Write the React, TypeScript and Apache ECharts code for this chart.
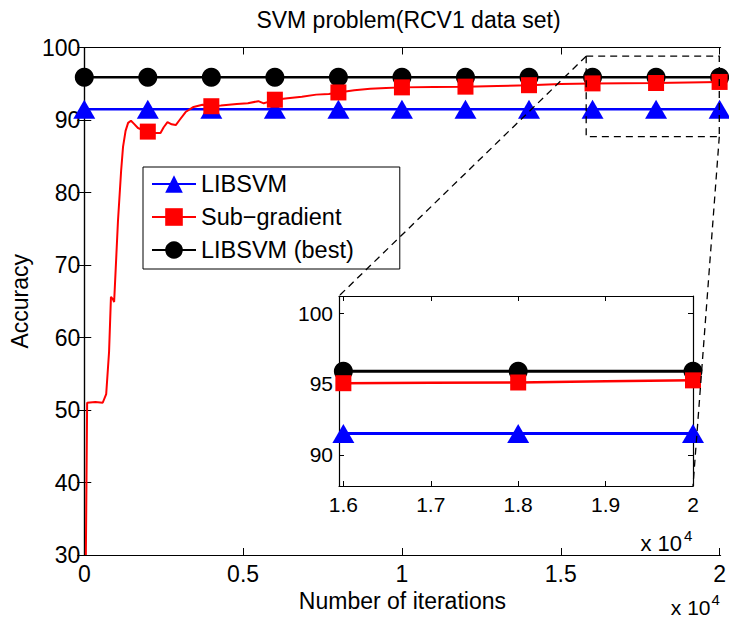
import React, { useEffect, useRef } from "react";
import * as echarts from "echarts";

// ---- data ----
const markerIters = [0, 2000, 4000, 6000, 8000, 10000, 12000, 14000, 16000, 18000, 20000];
const libsvmAcc = [91.5, 91.5, 91.5, 91.5, 91.5, 91.5, 91.5, 91.5, 91.5, 91.5, 91.5];
const libsvmBestAcc = [95.9, 95.9, 95.9, 95.9, 95.9, 95.9, 95.9, 95.9, 95.9, 95.9, 95.9];

const subIters = [
  50, 90, 350, 580, 690, 780, 840, 900, 940, 1060, 1160, 1220, 1300, 1380, 1470, 1560, 1690, 1850,
  2000, 2200, 2400, 2500, 2620, 2750, 2880, 3000, 3190, 3440, 3720, 4000, 4300, 4550, 4800, 5150,
  5480, 5650, 5800, 6000, 6400, 6850, 7300, 7700, 8000, 8500, 9000, 9500, 10000, 11000, 12000,
  13000, 14000, 15000, 16000, 17000, 18000, 19000, 20000,
];
const subAcc = [
  30, 51, 51.1, 51, 52.2, 58, 65.6, 65.3, 64.9, 76, 83, 86.3, 88.5, 89.6, 89.9, 89.5, 88.9, 88.6,
  88.4, 88.2, 88.2, 89, 89.7, 89.4, 89.3, 90, 91.1, 91.8, 92.1, 91.9, 92, 92.1, 92.2, 92.3,
  92.6, 92.3, 92.5, 92.8, 93, 93.2, 93.5, 93.6, 93.8, 94.1, 94.3, 94.4, 94.5, 94.55, 94.6,
  94.7, 94.8, 94.95, 95.05, 95.08, 95.1, 95.18, 95.25,
];
const subMarkerIters = [2000, 4000, 6000, 8000, 10000, 12000, 14000, 16000, 18000, 20000];

const mainXTicks = [0, 5000, 10000, 15000, 20000];
const insetXTicks = [16000, 17000, 18000, 19000, 20000];
const insetYTicks = [90, 95, 100];

const mainXRange = [0, 20030];
const mainYRange = [30, 100];
const insetXRange = [15950, 20000];
const insetYRange = [87.8, 101.2];
const zoomBoxX = [15800, 19990];
const zoomBoxY = [87.7, 98.8];

const FONT = "'Liberation Sans', Arial, Helvetica, sans-serif";

export default function App() {
  const ref = useRef<HTMLDivElement>(null);

  useEffect(() => {
    if (!ref.current) return;
    const chart = echarts.init(ref.current, undefined, { renderer: "svg" });

    const blueData = markerIters.map((x, i) => [x, libsvmAcc[i]]);
    const blackData = markerIters.map((x, i) => [x, libsvmBestAcc[i]]);
    const redData = subIters.map((x, i) =>
      subMarkerIters.includes(x) ? [x, subAcc[i]] : { value: [x, subAcc[i]], symbol: "none" }
    );
    const inInset = (x: number) => x >= insetXRange[0] && x <= insetXRange[1];
    const blueInset = blueData.filter((d) => inInset(d[0] as number));
    const blackInset = blackData.filter((d) => inInset(d[0] as number));
    const redInset = subIters
      .map((x, i) => (subMarkerIters.includes(x) ? [x, subAcc[i]] : { value: [x, subAcc[i]], symbol: "none" }))
      .filter((_, i) => subIters[i] >= insetXRange[0] - 1000);

    const axisLine = { show: true, lineStyle: { color: "#000", width: 1.2 } };
    const fmt = (v: number) => String(+(v / 10000).toFixed(2));

    const mkX = (grid: number, range: number[], ticks: number[], pos: string, labels: boolean, fs: number, margin: number, tickLen: number) => ({
      type: "value",
      gridIndex: grid,
      position: pos,
      min: range[0],
      max: range[1],
      splitLine: { show: false },
      axisLine,
      axisTick: { show: true, inside: true, length: tickLen, customValues: ticks, lineStyle: { color: "#000", width: 1 } },
      axisLabel: {
        show: labels,
        customValues: ticks,
        formatter: fmt,
        color: "#000",
        fontSize: fs,
        fontFamily: FONT,
        margin,
      },
    });

    const option: any = {
      animation: false,
      backgroundColor: "#fff",
      textStyle: { fontFamily: FONT },
      title: {
        text: "SVM problem(RCV1 data set)",
        left: 403.5,
        textAlign: "center",
        top: 3,
        textStyle: { fontSize: 23, fontWeight: "normal", color: "#000", fontFamily: FONT },
      },
      legend: {
        orient: "vertical",
        left: 143,
        top: 167,
        data: ["LIBSVM", "Sub−gradient", "LIBSVM (best)"],
        backgroundColor: "#fff",
        borderColor: "#000",
        borderWidth: 1,
        borderRadius: 0,
        padding: [5, 46, 7, 8],
        itemWidth: 44,
        itemHeight: 22,
        itemGap: 9,
        textStyle: { fontSize: 23.5, color: "#000", fontFamily: FONT },
        selectedMode: false,
      },
      grid: [
        { left: 83, right: 5, top: 47.5, bottom: 64, show: true, backgroundColor: "#fff", borderWidth: 0 },
        { left: 339, right: 36, top: 296, bottom: 133, show: true, backgroundColor: "#fff", borderWidth: 0, z: 3 },
      ],
      xAxis: [
        {
          ...mkX(0, mainXRange, mainXTicks, "bottom", true, 23, 7, 7),
          name: "Number of iterations",
          nameLocation: "middle",
          nameGap: 31,
          nameTextStyle: { fontSize: 23, color: "#000", fontFamily: FONT },
        },
        mkX(0, mainXRange, mainXTicks, "top", false, 23, 7, 7),
        { ...mkX(1, insetXRange, insetXTicks, "bottom", true, 21, 8, 5), z: 4 },
        { ...mkX(1, insetXRange, insetXTicks, "top", false, 21, 8, 5), z: 4 },
      ],
      yAxis: [
        {
          type: "value",
          gridIndex: 0,
          position: "left",
          min: mainYRange[0],
          max: mainYRange[1],
          interval: 10,
          splitLine: { show: false },
          axisLine,
          axisTick: { show: true, inside: true, length: 7, lineStyle: { color: "#000", width: 1 } },
          axisLabel: { color: "#000", fontSize: 23, fontFamily: FONT, margin: 4 },
          name: "Accuracy",
          nameLocation: "middle",
          nameGap: 52,
          nameTextStyle: { fontSize: 23, color: "#000", fontFamily: FONT },
        },
        {
          type: "value",
          gridIndex: 0,
          position: "right",
          min: mainYRange[0],
          max: mainYRange[1],
          interval: 10,
          splitLine: { show: false },
          axisLine,
          axisTick: { show: true, inside: true, length: 7, lineStyle: { color: "#000", width: 1 } },
          axisLabel: { show: false },
        },
        {
          type: "value",
          gridIndex: 1,
          position: "left",
          min: insetYRange[0],
          max: insetYRange[1],
          splitLine: { show: false },
          axisLine,
          axisTick: { show: true, inside: true, length: 5, customValues: insetYTicks, lineStyle: { color: "#000", width: 1 } },
          axisLabel: { customValues: insetYTicks, color: "#000", fontSize: 21, fontFamily: FONT, margin: 6 },
          z: 4,
        },
        {
          type: "value",
          gridIndex: 1,
          position: "right",
          min: insetYRange[0],
          max: insetYRange[1],
          splitLine: { show: false },
          axisLine,
          axisTick: { show: true, inside: true, length: 5, customValues: insetYTicks, lineStyle: { color: "#000", width: 1 } },
          axisLabel: { show: false },
          z: 4,
        },
      ],
      series: [
        {
          name: "LIBSVM",
          type: "line",
          xAxisIndex: 0,
          yAxisIndex: 0,
          data: blueData,
          symbol: "triangle",
          symbolSize: [22, 19],
          showAllSymbol: true,
          lineStyle: { color: "#0000ff", width: 2.5 },
          itemStyle: { color: "#0000ff" },
          z: 2,
        },
        {
          name: "LIBSVM (best)",
          type: "line",
          xAxisIndex: 0,
          yAxisIndex: 0,
          data: blackData,
          symbol: "circle",
          symbolSize: 19,
          showAllSymbol: true,
          lineStyle: { color: "#000", width: 2.5 },
          itemStyle: { color: "#000" },
          z: 3,
        },
        {
          name: "Sub−gradient",
          type: "line",
          xAxisIndex: 0,
          yAxisIndex: 0,
          data: redData,
          symbol: "rect",
          symbolSize: 16,
          showAllSymbol: true,
          lineStyle: { color: "#ff0000", width: 2 },
          itemStyle: { color: "#ff0000" },
          z: 4,
        },
        {
          name: "LIBSVM",
          type: "line",
          xAxisIndex: 2,
          yAxisIndex: 2,
          data: blueInset,
          symbol: "triangle",
          symbolSize: [22, 19],
          lineStyle: { color: "#0000ff", width: 3 },
          itemStyle: { color: "#0000ff" },
          z: 5,
        },
        {
          name: "LIBSVM (best)",
          type: "line",
          xAxisIndex: 2,
          yAxisIndex: 2,
          data: blackInset,
          symbol: "circle",
          symbolSize: 19,
          lineStyle: { color: "#000", width: 3 },
          itemStyle: { color: "#000" },
          z: 6,
        },
        {
          name: "Sub−gradient",
          type: "line",
          xAxisIndex: 2,
          yAxisIndex: 2,
          data: redInset,
          symbol: "rect",
          symbolSize: 16,
          lineStyle: { color: "#ff0000", width: 2.5 },
          itemStyle: { color: "#ff0000" },
          z: 7,
        },
      ],
    };

    chart.setOption(option);

    const toMain = (p: number[]) => chart.convertToPixel({ xAxisIndex: 0, yAxisIndex: 0 }, p) as number[];
    const toInset = (p: number[]) => chart.convertToPixel({ xAxisIndex: 2, yAxisIndex: 2 }, p) as number[];
    const bTL = toMain([zoomBoxX[0], zoomBoxY[1]]);
    const bBR = toMain([zoomBoxX[1], zoomBoxY[0]]);
    const iTL = toInset([insetXRange[0], insetYRange[1]]);
    const iBR = toInset([insetXRange[1], insetYRange[0]]);
    const mBR = toMain([mainXRange[1], mainYRange[0]]);
    const dash = { fill: "none", stroke: "#000", lineWidth: 1.3, lineDash: [7, 5] };

    chart.setOption({
      graphic: [
        {
          type: "rect",
          z: 100,
          shape: { x: bTL[0], y: bTL[1], width: bBR[0] - bTL[0], height: bBR[1] - bTL[1] },
          style: dash,
        },
        { type: "line", z: 100, shape: { x1: bTL[0], y1: bTL[1], x2: iTL[0], y2: iTL[1] }, style: dash },
        { type: "line", z: 100, shape: { x1: bBR[0], y1: bBR[1], x2: iBR[0], y2: iBR[1] }, style: dash },
        {
          type: "text",
          z: 100,
          x: mBR[0] - 10,
          y: mBR[1] + 52,
          style: { text: "x 10", fontSize: 21, fontFamily: FONT, fill: "#000", align: "right", verticalAlign: "middle" },
        },
        {
          type: "text",
          z: 100,
          x: mBR[0] - 9,
          y: mBR[1] + 44,
          style: { text: "4", fontSize: 15, fontFamily: FONT, fill: "#000", align: "left", verticalAlign: "middle" },
        },
        {
          type: "text",
          z: 100,
          x: iBR[0] - 11,
          y: iBR[1] + 57,
          style: { text: "x 10", fontSize: 22, fontFamily: FONT, fill: "#000", align: "right", verticalAlign: "middle" },
        },
        {
          type: "text",
          z: 100,
          x: iBR[0] - 9,
          y: iBR[1] + 49,
          style: { text: "4", fontSize: 15, fontFamily: FONT, fill: "#000", align: "left", verticalAlign: "middle" },
        },
      ],
    });

    return () => chart.dispose();
  }, []);

  return <div ref={ref} style={{ width: 729, height: 619, position: "absolute", left: 0, top: 0 }} />;
}
